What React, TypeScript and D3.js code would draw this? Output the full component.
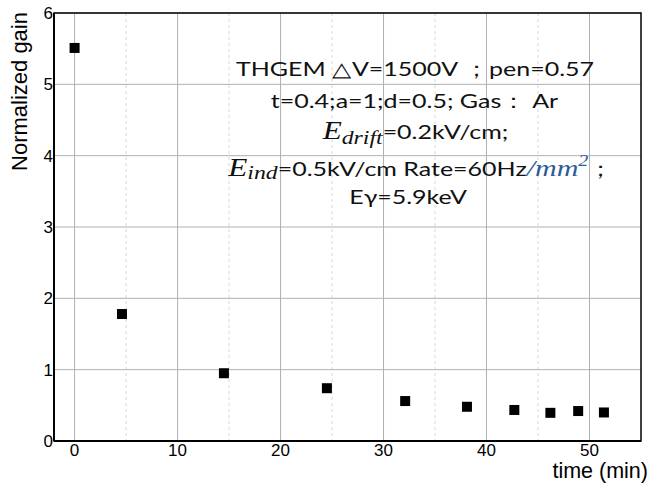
import React from "react";
import * as d3 from "d3";

const timeMin = [0, 4.6, 14.5, 24.5, 32.1, 38.1, 42.7, 46.2, 48.9, 51.4];
const gain = [5.51, 1.78, 0.95, 0.74, 0.56, 0.48, 0.435, 0.395, 0.42, 0.40];
const xTicks = [0, 10, 20, 30, 40, 50];
const xMinor = [5, 15, 25, 35, 45];
const yTicks = [0, 1, 2, 3, 4, 5, 6];

const W = 649;
const H = 484;
const M = { left: 54, right: 641, top: 13, bottom: 441 };

export default function App() {
  const x = d3.scaleLinear().domain([-2, 55]).range([M.left, M.right]);
  const y = d3.scaleLinear().domain([0, 6]).range([M.bottom, M.top]);
  const annFont = "Lato, 'Open Sans', sans-serif";
  const mathFont = "'Liberation Serif', 'DejaVu Serif', serif";
  const sq = 10;
  const sx = 1.25;
  const axisFont = "'Liberation Sans', Arial, sans-serif";
  return (
    <svg width={W} height={H} style={{ position: "absolute", left: 0, top: 0, background: "#fff" }}>
      <rect x={0} y={0} width={W} height={H} fill="#fff" />
      {xMinor.map((t) => (
        <line key={"xm" + t} x1={x(t)} x2={x(t)} y1={M.top} y2={M.bottom} stroke="#d8d8d8" strokeDasharray="3,3" />
      ))}
      {xTicks.map((t) => (
        <line key={"xg" + t} x1={x(t)} x2={x(t)} y1={M.top} y2={M.bottom} stroke="#b0b0b0" />
      ))}
      {yTicks.map((t) => (
        <line key={"yg" + t} x1={M.left} x2={M.right} y1={y(t)} y2={y(t)} stroke="#b0b0b0" />
      ))}
      <rect x={M.left} y={M.top} width={M.right - M.left} height={M.bottom - M.top} fill="none" stroke="#000" strokeWidth={1.5} />
      <line x1={M.left} x2={M.left} y1={M.top} y2={M.bottom} stroke="#000" strokeWidth={2} />
      <line x1={M.left} x2={M.right} y1={M.bottom} y2={M.bottom} stroke="#000" strokeWidth={2} />
      {xTicks.map((t) => (
        <text key={"xl" + t} x={x(t)} y={456} textAnchor="middle" fontFamily={axisFont} fontSize={17} fill="#000">
          {t}
        </text>
      ))}
      {yTicks.map((t) => (
        <text key={"yl" + t} x={53} y={y(t) + 6} textAnchor="end" fontFamily={axisFont} fontSize={17} fill="#000">
          {t}
        </text>
      ))}
      <text transform={`translate(27,${91.5}) rotate(-90)`} textAnchor="middle" fontFamily={axisFont} fontSize={22} fill="#000">
        Normalized gain
      </text>
      <text x={648} y={478} textAnchor="end" fontFamily={axisFont} fontSize={21.5} fill="#000">
        time (min)
      </text>
      {timeMin.map((t, i) => (
        <rect key={"p" + i} x={x(t) - sq / 2} y={y(gain[i]) - sq / 2} width={sq} height={sq} fill="#000" />
      ))}
      <g fill="#111" fontFamily={annFont} fontSize={20}>
        <text transform={`translate(415,76) scale(${sx},1)`} textAnchor="middle">THGEM △V=1500V ；pen=0.57</text>
        <text transform={`translate(414.5,108) scale(${sx},1)`} textAnchor="middle">t=0.4;a=1;d=0.5; Gas： Ar</text>
        <text transform={`translate(415.5,139) scale(${sx},1)`} textAnchor="middle">
          <tspan fontFamily={mathFont} fontStyle="italic" fontSize={25}>E</tspan>
          <tspan fontFamily={mathFont} fontStyle="italic" fontSize={19} dy={5}>drift</tspan>
          <tspan dy={-5}>=0.2kV/cm;</tspan>
        </text>
        <text transform={`translate(421,176) scale(${sx},1)`} textAnchor="middle">
          <tspan fontFamily={mathFont} fontStyle="italic" fontSize={25}>E</tspan>
          <tspan fontFamily={mathFont} fontStyle="italic" fontSize={19} dy={3}>ind</tspan>
          <tspan dy={-3}>=0.5kV/cm Rate=60Hz</tspan>
          <tspan fontFamily={mathFont} fontStyle="italic" fontSize={24} fill="#2e5b98">/mm</tspan>
          <tspan fontFamily={mathFont} fontStyle="italic" fontSize={16} fill="#2e5b98" dy={-10}>2</tspan>
          <tspan dy={10}>；</tspan>
        </text>
        <text transform={`translate(408,204) scale(${sx},1)`} textAnchor="middle">Eγ=5.9keV</text>
      </g>
    </svg>
  );
}
